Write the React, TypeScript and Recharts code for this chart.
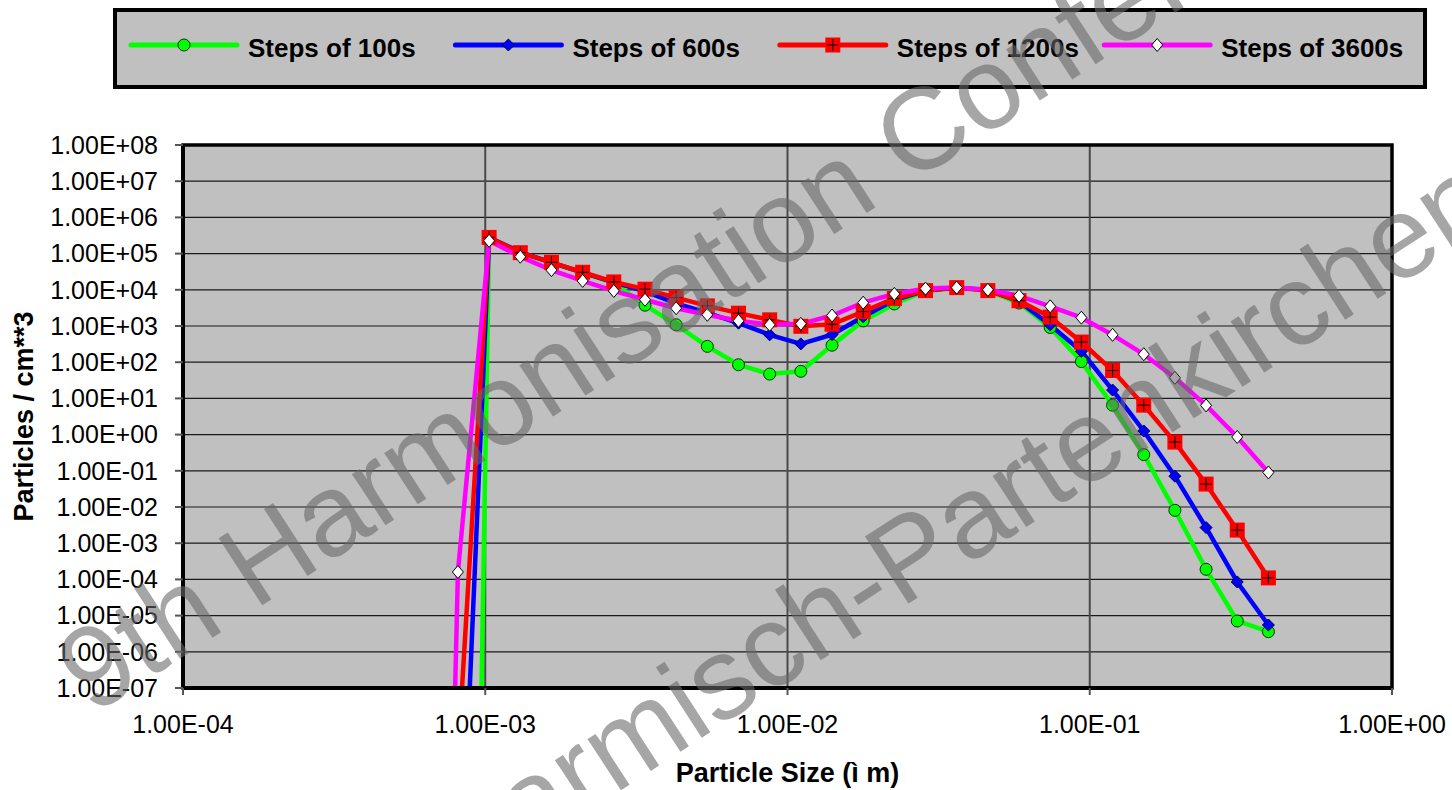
import React from "react";
import { LineChart, Line, XAxis, YAxis, CartesianGrid, ReferenceArea } from "recharts";

// particle sizes (µm), one per size bin
const sizes = [
  6.41e-4, 8.12e-4, 1.03e-3, 1.306e-3, 1.656e-3, 2.1e-3, 2.663e-3, 3.377e-3, 4.282e-3, 5.43e-3,
  6.885e-3, 8.73e-3, 1.107e-2, 1.404e-2, 1.78e-2, 2.257e-2, 2.862e-2, 3.629e-2, 4.602e-2, 5.835e-2,
  7.399e-2, 9.382e-2, 0.119, 0.1509, 0.1913, 0.2426, 0.3076, 0.39,
];

const steps100 = [
  null, 2.5e-46, 2.75e5, 1.07e5, 5.75e4, 3.0e4, 1.55e4, 3.76e3, 1.08e3, 2.74e2, 85, 47, 56,
  2.95e2, 1.38e3, 4.07e3, 9.3e3, 1.12e4, 9.5e3, 4.3e3, 9.1e2, 1.04e2, 6.5, 0.28, 8.1e-3, 1.9e-4,
  7.1e-6, 3.6e-6,
];
const steps600 = [
  null, 2.5e-15, 2.8e5, 1.1e5, 5.6e4, 3.0e4, 1.6e4, 9.0e3, 4.2e3, 2.3e3, 1.2e3, 5.7e2, 3.2e2,
  5.8e2, 1.8e3, 5.2e3, 9.5e3, 1.15e4, 9.8e3, 4.8e3, 1.07e3, 2.0e2, 17, 1.26, 0.071, 2.7e-3,
  8.5e-5, 5.5e-6,
];
const steps1200 = [
  null, 1.3e-9, 2.8e5, 1.06e5, 5.75e4, 3.05e4, 1.65e4, 1.04e4, 6.1e3, 3.6e3, 2.26e3, 1.48e3, 9.8e2,
  1.12e3, 2.5e3, 5.75e3, 9.5e3, 1.15e4, 9.5e3, 5.0e3, 1.76e3, 3.6e2, 59, 6.5, 0.62, 4.3e-2,
  2.3e-3, 1.1e-4,
];
const steps3600 = [
  2.5e-40, 1.6e-4, 2.26e5, 8.2e4, 3.5e4, 1.76e4, 9.3e3, 5.3e3, 3.1e3, 2.04e3, 1.39e3, 1.08e3, 1.15e3,
  1.95e3, 4.4e3, 7.7e3, 1.08e4, 1.15e4, 1.0e4, 6.8e3, 3.5e3, 1.7e3, 5.7e2, 1.66e2, 37, 6.4, 0.86,
  0.09,
];

const xTicks = [1e-4, 1e-3, 1e-2, 1e-1, 1];
const yTicks = [1e-7, 1e-6, 1e-5, 1e-4, 1e-3, 1e-2, 1e-1, 1, 1e1, 1e2, 1e3, 1e4, 1e5, 1e6, 1e7, 1e8];

const FONT = '"Liberation Sans", Arial, sans-serif';

const sci = (v: number) => {
  const e = Math.round(Math.log10(v));
  return `1.00E${e < 0 ? "-" : "+"}${String(Math.abs(e)).padStart(2, "0")}`;
};

const toPoints = (vals: (number | null)[]) =>
  sizes.map((x, i) => ({ x, y: vals[i] })).filter((p) => p.y != null);

type Marker = "circle" | "diamond" | "square" | "white";

const series: { name: string; values: (number | null)[]; color: string; marker: Marker }[] = [
  { name: "Steps of 100s", values: steps100, color: "#00FF00", marker: "circle" },
  { name: "Steps of 600s", values: steps600, color: "#0000FF", marker: "diamond" },
  { name: "Steps of 1200s", values: steps1200, color: "#FF0000", marker: "square" },
  { name: "Steps of 3600s", values: steps3600, color: "#FF00FF", marker: "white" },
];

function drawMarker(m: Marker, cx: number, cy: number) {
  if (m === "circle")
    return <circle cx={cx} cy={cy} r={6} fill="#00FF00" stroke="#063006" strokeWidth={1} />;
  if (m === "diamond")
    return (
      <polygon
        points={`${cx},${cy - 6} ${cx + 6},${cy} ${cx},${cy + 6} ${cx - 6},${cy}`}
        fill="#0000FF"
        stroke="#000040"
        strokeWidth={1}
      />
    );
  if (m === "square")
    return (
      <g>
        <rect x={cx - 7.5} y={cy - 7.5} width={15} height={15} fill="#FF0000" />
        <line x1={cx - 6} y1={cy} x2={cx + 6} y2={cy} stroke="#000" strokeWidth={1} />
        <line x1={cx} y1={cy - 6} x2={cx} y2={cy + 6} stroke="#000" strokeWidth={1} />
      </g>
    );
  return (
    <polygon
      points={`${cx},${cy - 6.5} ${cx + 5.5},${cy} ${cx},${cy + 6.5} ${cx - 5.5},${cy}`}
      fill="#FFFFFF"
      stroke="#000"
      strokeWidth={1}
    />
  );
}

function Legend() {
  return (
    <g>
      <rect x={115} y={10} width={1310} height={77} fill="#C0C0C0" stroke="#000" strokeWidth={4} />
      {series.map((s, i) => {
        const x0 = 131 + i * 324.4;
        return (
          <g key={s.name}>
            <line x1={x0} y1={45} x2={x0 + 106} y2={45} stroke={s.color} strokeWidth={5} strokeLinecap="round" />
            {drawMarker(s.marker, x0 + 53, 45)}
            <text x={x0 + 117} y={57} fontFamily={FONT} fontWeight="bold" fontSize={26} fill="#000">
              {s.name}
            </text>
          </g>
        );
      })}
    </g>
  );
}

function Watermark() {
  const style = { fontFamily: FONT, fontSize: 116, fill: "rgba(104,104,104,0.59)" };
  return (
    <g>
      <text x={92} y={716} transform="rotate(-33 92 716)" {...style}>
        9th Harmonisation Conference
      </text>
      <text x={452} y={900} transform="rotate(-33 452 900)" {...style}>
        Garmisch-Partenkirchen
      </text>
    </g>
  );
}

export default function App() {
  return (
    <div style={{ position: "absolute", left: 0, top: 0, width: 1452, height: 790, background: "#fff" }}>
      <LineChart width={1452} height={790} margin={{ top: 145, right: 60, bottom: 0, left: 8 }}>
        <CartesianGrid fill="#C0C0C0" vertical={false} stroke="#1a1a1a" strokeWidth={1.2} />
        <CartesianGrid horizontal={false} stroke="#4a4a4a" strokeWidth={2} />
        <XAxis
          dataKey="x"
          type="number"
          scale="log"
          domain={[1e-4, 1]}
          allowDataOverflow
          ticks={xTicks}
          interval={0}
          tickFormatter={sci}
          height={102}
          tickSize={7}
          tickMargin={20}
          tickLine={{ stroke: "#555", strokeWidth: 2 }}
          axisLine={{ stroke: "#000", strokeWidth: 4 }}
          tick={{ fill: "#000", fontSize: 25, fontFamily: FONT }}
          label={{
            value: "Particle Size (ì m)",
            position: "insideBottom",
            offset: 8,
            fill: "#000",
            fontSize: 27,
            fontWeight: "bold",
            fontFamily: FONT,
          }}
        />
        <YAxis
          type="number"
          scale="log"
          domain={[1e-7, 1e8]}
          allowDataOverflow
          ticks={yTicks}
          interval={0}
          tickFormatter={sci}
          width={175}
          tickSize={8}
          tickMargin={17}
          tickLine={{ stroke: "#555", strokeWidth: 2 }}
          axisLine={{ stroke: "#000", strokeWidth: 4 }}
          tick={{ fill: "#000", fontSize: 25, fontFamily: FONT }}
          label={{
            value: "Particles / cm**3",
            angle: -90,
            position: "insideLeft",
            offset: 15,
            style: { textAnchor: "middle" },
            fill: "#000",
            fontSize: 27,
            fontWeight: "bold",
            fontFamily: FONT,
          }}
        />
        <ReferenceArea
          x1={1e-4}
          x2={1}
          y1={1e-7}
          y2={1e8}
          fill="none"
          fillOpacity={0}
          stroke="#000"
          strokeWidth={3.5}
          ifOverflow="visible"
        />
        {series.map((s) => (
          <Line
            key={s.name}
            data={toPoints(s.values)}
            dataKey="y"
            type="linear"
            stroke={s.color}
            strokeWidth={4.5}
            isAnimationActive={false}
            activeDot={false}
            dot={(p: any) => (
              <g key={`${s.name}-${p.index}`}>
                {p.cx != null && p.cy != null ? drawMarker(s.marker, p.cx, p.cy) : null}
              </g>
            )}
          />
        ))}
      </LineChart>
      <svg
        width={1452}
        height={790}
        style={{ position: "absolute", left: 0, top: 0, pointerEvents: "none" }}
      >
        <Legend />
        <Watermark />
      </svg>
    </div>
  );
}
